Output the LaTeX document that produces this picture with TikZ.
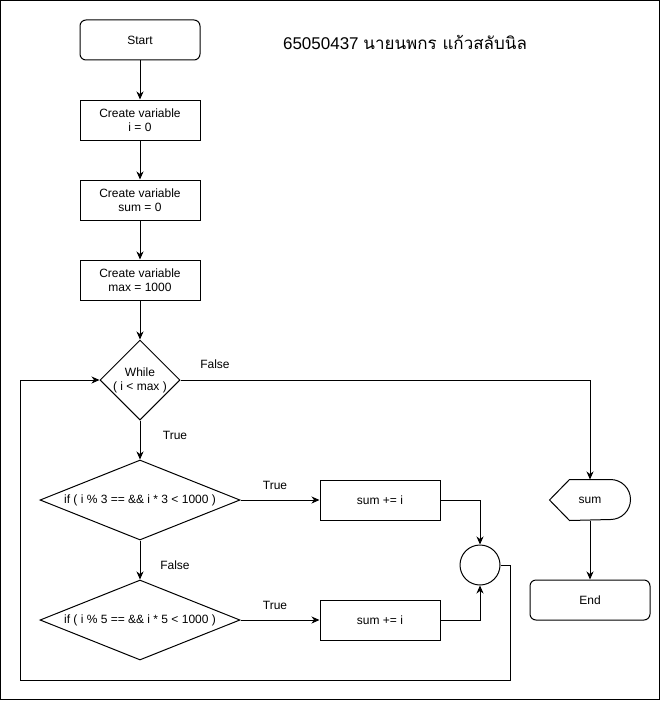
\documentclass[tikz,border=0pt]{standalone}
\usepackage{fontspec}
\setmainfont{Liberation Sans}
\newfontfamily\thaifont[Script=Thai]{Loma}
\usetikzlibrary{arrows.meta,shapes.geometric,positioning}

\begin{document}
\begin{tikzpicture}[x=1pt,y=-1pt,line width=1pt,>={Stealth[length=8pt,width=7pt,inset=2.5pt]},
  every node/.style={font=\fontsize{12}{14}\selectfont},
  term/.style={draw,rounded corners=6pt,minimum width=120pt,minimum height=40pt},
  proc/.style={draw,align=center,minimum width=120pt,minimum height=40pt,inner sep=0pt},
  dec/.style={draw,diamond,inner sep=0pt,minimum width=#1,minimum height=80pt},
  lbl/.style={inner sep=1pt}]
  \useasboundingbox (0,0) rectangle (661,701);
  % ===================== marco =====================
  \draw (0.5,0.5) rectangle (659.5,699.5);
  \node (title) at (405,42) {\fontsize{17}{20}\selectfont 65050437 {\thaifont นายนพกร แก้วสลับนิล}};
  % ===================== inicio y variables =====================
  \node[term] (start) at (140,40) {Start};
  \node[proc] (vari) at (140,120) {Create variable\\i = 0};
  \node[proc] (varsum) at (140,200) {Create variable\\sum = 0};
  \node[proc] (varmax) at (140,280) {Create variable\\max = 1000};
  % ===================== bucle =====================
  \node[dec=80pt,label={[align=center]center:While\\( i < max )}] (loop) at (140,380) {};
  \node[dec=200pt,label=center:{if ( i \% 3 == \&\& i * 3 < 1000 )}] (ifthree) at (140,500) {};
  \node[dec=200pt,label=center:{if ( i \% 5 == \&\& i * 5 < 1000 )}] (iffive) at (140,620) {};
  \node[proc] (addthree) at (380,500) {sum += i};
  \node[proc] (addfive) at (380,620) {sum += i};
  \node[draw,circle,minimum size=40pt,inner sep=0pt] (join) at (480,565) {};
  % ===================== salida =====================
  \node[minimum width=80pt,minimum height=40pt] (disp) at (590,500) {sum};
  \draw (disp.west) -- ([xshift=20pt]disp.north west) -- ([xshift=-20pt]disp.north east)
    arc[start angle=-90,end angle=90,radius=20] -- ([xshift=20pt]disp.south west) -- cycle;
  \node[term] (stop) at (590,600) {End};
  % ---------- conectores ----------
  \draw[->] (start) -- (vari);
  \draw[->] (vari) -- (varsum);
  \draw[->] (varsum) -- (varmax);
  \draw[->] (varmax) -- (loop);
  \draw[->] (loop.east) -| (disp.north); \node[lbl] at (215,364) {False};
  \draw[->] (loop.south) -- (ifthree.north); \node[lbl] at (175,435) {True};
  \draw[->] (ifthree.east) -- (addthree.west); \node[lbl] at (275,485) {True};
  \draw[->] (ifthree.south) -- (iffive.north); \node[lbl] at (175,565) {False};
  \draw[->] (iffive.east) -- (addfive.west); \node[lbl] at (275,605) {True};
  \draw[->] (addthree.east) -| (join.north);
  \draw[->] (addfive.east) -| (join.south);
  \coordinate (backr) at (510,680);
  \coordinate (backl) at (20,680);
  \draw[->] (join.east) -| (backr) -- (backl) |- (loop.west);
  \draw[->] (disp.south) -- (stop.north);
\end{tikzpicture}
\end{document}
